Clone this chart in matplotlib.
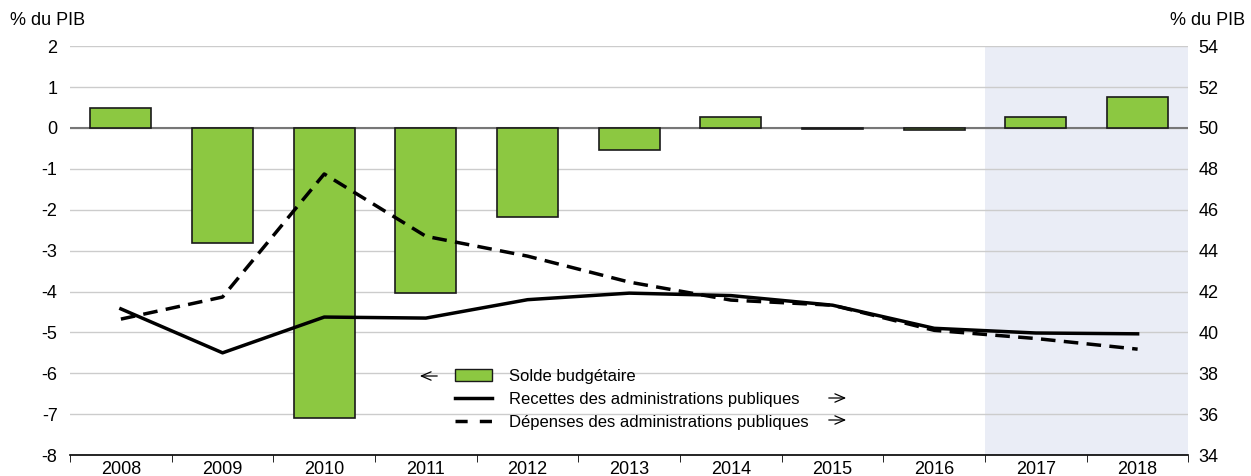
import matplotlib
matplotlib.use('Agg')
import numpy as np
import matplotlib.pyplot as plt
from matplotlib.patches import Patch
from matplotlib.lines import Line2D

plt.rcParams['font.family'] = ['Liberation Sans', 'DejaVu Sans']
plt.rcParams['axes.unicode_minus'] = False

annees = ['2008', '2009', '2010', '2011', '2012', '2013', '2014', '2015', '2016', '2017', '2018']
solde = [0.5, -2.82, -7.1, -4.03, -2.18, -0.55, 0.26, -0.03, -0.05, 0.26, 0.76]
recettes = [41.15, 39.0, 40.75, 40.7, 41.6, 41.92, 41.8, 41.33, 40.2, 39.97, 39.93]
depenses = [40.65, 41.73, 47.75, 44.7, 43.73, 42.46, 41.58, 41.33, 40.1, 39.7, 39.18]

x = np.arange(len(annees))
vert = '#8cc841'

fig = plt.figure(figsize=(12.51, 4.76), dpi=100)
ax = fig.add_axes([0.056, 0.044, 0.894, 0.859])
ax2 = ax.twinx()

# zone de projection
ax.axvspan(8.5, 10.5, color='#eaedf6', zorder=0, lw=0)

ax.set_ylim(-8, 2)
ax.set_yticks(range(-8, 3))
ax.set_xlim(-0.5, 10.5)
ax.grid(axis='y', color='#cccccc', lw=1)
ax.set_axisbelow(True)
ax.axhline(0, color='#777777', lw=1.5, zorder=1)

ax.bar(x, solde, width=0.6, color=vert, edgecolor='#1a1a1a', lw=1.2, zorder=2)

ax2.set_ylim(34, 54)
ax2.set_yticks(range(34, 55, 2))
ax2.plot(x, recettes, color='black', lw=2.5, zorder=3)
ax2.plot(x, depenses, color='black', lw=2.5, ls=(0, (4.2, 2.4)), zorder=3)

ax.set_xticks(x)
ax.set_xticklabels(annees)
ax.set_xticks(np.arange(-0.5, 10.6, 1), minor=True)
ax.tick_params(axis='x', which='major', length=0, labelsize=13, pad=4)
ax.tick_params(axis='x', which='minor', length=5, direction='out', color='black')
ax.tick_params(axis='y', length=0, labelsize=13, pad=9)
ax2.tick_params(axis='y', length=0, labelsize=13, pad=7)

for a in (ax, ax2):
    for s in ('top', 'left', 'right'):
        a.spines[s].set_visible(False)
ax.spines['bottom'].set_color('black')
ax.spines['bottom'].set_linewidth(1.2)
ax2.spines['bottom'].set_visible(False)

fig.text(0.008, 0.957, '% du PIB', fontsize=13, ha='left', va='center')
fig.text(0.995, 0.957, '% du PIB', fontsize=13, ha='right', va='center')

handles = [Patch(facecolor=vert, edgecolor='#1a1a1a'),
           Line2D([], [], color='black', lw=2.5),
           Line2D([], [], color='black', lw=2.5, ls=(0, (3.5, 3.5)))]
labels = ['Solde budgétaire', 'Recettes des administrations publiques',
          'Dépenses des administrations publiques']
leg = ax2.legend(handles, labels, loc='upper left',
                 bbox_to_anchor=(455 / 1251, 1 - 369 / 476), bbox_transform=fig.transFigure,
                 borderaxespad=0, borderpad=0, frameon=False, fontsize=12,
                 handlelength=2.2, handletextpad=1.05, labelspacing=0.48)

# fleches : axe de gauche / axe de droite
fleche = dict(arrowstyle='->,head_length=0.7,head_width=0.3', color='black', lw=0.9)
for x0, x1, yy in [(440, 417, 376), (826, 849, 398), (826, 849, 420)]:
    ax.annotate('', xy=(x1 / 1251, 1 - yy / 476), xytext=(x0 / 1251, 1 - yy / 476),
                xycoords='figure fraction', arrowprops=fleche)

plt.savefig('out.png', dpi=100)
